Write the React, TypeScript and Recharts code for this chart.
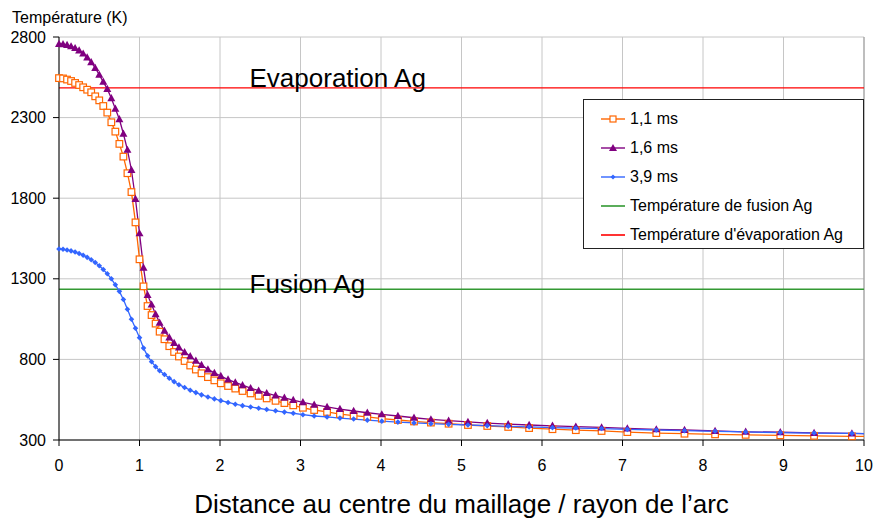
import React from 'react';
import { LineChart, Line, XAxis, YAxis, CartesianGrid, ReferenceLine, Legend } from 'recharts';

const FONT = '"Liberation Sans", Arial, sans-serif';

// distance / arc radius (shared mesh for the three curves)
const distances = [
  0, 0.05, 0.1, 0.15, 0.2, 0.25, 0.3, 0.35, 0.4, 0.45,
  0.5, 0.55, 0.6, 0.65, 0.7, 0.75, 0.8, 0.85, 0.9, 0.95,
  1.0, 1.05, 1.1, 1.15, 1.2, 1.25, 1.31, 1.37, 1.43, 1.49,
  1.56, 1.63, 1.7, 1.77, 1.85, 1.93, 2.01, 2.1, 2.19, 2.28,
  2.38, 2.48, 2.58, 2.69, 2.8, 2.91, 3.03, 3.17, 3.33, 3.49,
  3.66, 3.83, 4.01, 4.21, 4.41, 4.62, 4.84, 5.08, 5.32, 5.58,
  5.84, 6.13, 6.42, 6.74, 7.06, 7.42, 7.77, 8.15, 8.53, 8.96,
  9.38, 9.85, 10,
];

// 1,1 ms
const temp11 = [
  2545, 2543, 2536, 2527, 2515, 2502, 2488, 2473, 2457, 2432,
  2407, 2372, 2331, 2271, 2213, 2137, 2058, 1955, 1838, 1650,
  1421, 1253, 1131, 1075, 1022, 972, 925, 882, 846, 818,
  790, 762, 737, 714, 690, 670, 652, 635, 619, 604,
  589, 574, 558, 543, 529, 515, 500, 486, 474, 461,
  451, 443, 432, 424, 415, 408, 401, 393, 387, 381,
  374, 367, 361, 356, 349, 343, 339, 335, 332, 329,
  326, 323, 322,
];

// 1,6 ms
const temp16 = [
  2757, 2755, 2750, 2742, 2731, 2716, 2697, 2673, 2644, 2608,
  2566, 2522, 2478, 2420, 2355, 2290, 2200, 2100, 1975, 1795,
  1582, 1369, 1200, 1140, 1080, 1028, 978, 936, 902, 874,
  845, 820, 792, 765, 738, 716, 697, 675, 657, 640,
  622, 606, 591, 576, 562, 548, 534, 519, 505, 492,
  480, 469, 459, 449, 438, 428, 420, 412, 405, 398,
  393, 388, 383, 378, 372, 366, 362, 356, 351, 348,
  344, 341, 340,
];

// 3,9 ms
const temp39 = [
  1485, 1483, 1479, 1473, 1466, 1457, 1446, 1433, 1418, 1401,
  1381, 1358, 1331, 1300, 1263, 1222, 1172, 1111, 1049, 993,
  935, 870, 822, 785, 755, 730, 706, 683, 662, 643,
  626, 609, 594, 580, 567, 555, 544, 533, 522, 513,
  505, 497, 489, 481, 473, 466, 457, 449, 443, 436,
  430, 423, 417, 411, 406, 401, 397, 393, 389, 385,
  381, 377, 374, 371, 366, 362, 358, 354, 350, 346,
  343, 341, 340,
];

const xTicks = [0, 1, 2, 3, 4, 5, 6, 7, 8, 9, 10];
const yTicks = [300, 800, 1300, 1800, 2300, 2800];

const T_FUSION = 1235;
const T_EVAP = 2485;

const data = distances.map((x, i) => ({ x, t11: temp11[i], t16: temp16[i], t39: temp39[i] }));

const ORANGE = '#FF6600';
const PURPLE = '#800080';
const BLUE = '#3366FF';
const GREEN = '#339933';
const RED = '#FF0000';

const SquareDot = (p: any) => {
  const { cx, cy, index, payload } = p;
  if (cx == null || payload.x >= 10) return <g key={`sq-${index}`} />;
  return <rect key={`sq-${index}`} x={cx - 3.3} y={cy - 3.3} width={6.6} height={6.6} fill="#fff" stroke={ORANGE} strokeWidth={1.2} />;
};

const TriangleDot = (p: any) => {
  const { cx, cy, index, payload } = p;
  if (cx == null || payload.x >= 10) return <g key={`tr-${index}`} />;
  return <path key={`tr-${index}`} d={`M${cx},${cy - 4.2} L${cx + 4},${cy + 3} L${cx - 4},${cy + 3} Z`} fill={PURPLE} />;
};

const DiamondDot = (p: any) => {
  const { cx, cy, index, payload } = p;
  if (cx == null || payload.x >= 10) return <g key={`di-${index}`} />;
  return <path key={`di-${index}`} d={`M${cx},${cy - 2.8} L${cx + 2.8},${cy} L${cx},${cy + 2.8} L${cx - 2.8},${cy} Z`} fill={BLUE} />;
};

const legendItems = [
  { label: '1,1 ms', color: ORANGE, mark: 'square' },
  { label: '1,6 ms', color: PURPLE, mark: 'triangle' },
  { label: '3,9 ms', color: BLUE, mark: 'diamond' },
  { label: 'Température de fusion Ag', color: GREEN, mark: 'none' },
  { label: "Température d'évaporation Ag", color: RED, mark: 'none' },
];

const LegendIcon = ({ color, mark }: { color: string; mark: string }) => (
  <svg width={24} height={12} style={{ display: 'block' }}>
    <line x1={0} y1={6} x2={24} y2={6} stroke={color} strokeWidth={mark === 'none' ? 1.6 : 1.4} />
    {mark === 'square' && <rect x={9} y={3} width={6} height={6} fill="#fff" stroke={color} strokeWidth={1.2} />}
    {mark === 'triangle' && <path d="M12,2 L16,9 L8,9 Z" fill={color} />}
    {mark === 'diamond' && <path d="M12,3.5 L14.5,6 L12,8.5 L9.5,6 Z" fill={color} />}
  </svg>
);

const renderLegend = () => (
  <div style={{ boxSizing: 'border-box', width: 281, height: 150, border: '1px solid #222', background: '#fff', paddingTop: 4, fontFamily: FONT }}>
    {legendItems.map((it) => (
      <div key={it.label} style={{ display: 'flex', alignItems: 'center', height: 29, paddingLeft: 17, fontSize: 16, color: '#000' }}>
        <LegendIcon color={it.color} mark={it.mark} />
        <span style={{ marginLeft: 5 }}>{it.label}</span>
      </div>
    ))}
  </div>
);

const lineLabel = (text: string, dx: number, dy: number) => (props: any) => {
  const vb = props.viewBox || {};
  return (
    <text x={vb.x + dx} y={vb.y + dy} fontSize={26} fill="#000" fontFamily={FONT}>
      {text}
    </text>
  );
};

export default function App() {
  return (
    <div style={{ position: 'absolute', left: 0, top: 0, width: 877, height: 521, background: '#fff', fontFamily: FONT }}>
      <div style={{ position: 'absolute', left: 12, top: 10, fontSize: 16, lineHeight: '16px', color: '#000' }}>Température (K)</div>
      <LineChart width={877} height={521} data={data} margin={{ top: 37, right: 13, bottom: 0, left: 0 }}>
        <CartesianGrid stroke="#c6c6c6" />
        <XAxis
          dataKey="x"
          type="number"
          domain={[0, 10]}
          ticks={xTicks}
          interval={0}
          height={81}
          tickSize={6}
          tickMargin={14}
          stroke="#000"
          tick={{ fill: '#000', fontSize: 16, fontFamily: FONT }}
          label={{ value: 'Distance au centre du maillage / rayon de l’arc', position: 'insideBottom', offset: 8, fontSize: 26, fill: '#000', fontFamily: FONT }}
        />
        <YAxis
          type="number"
          domain={[300, 2800]}
          ticks={yTicks}
          interval={0}
          width={59}
          tickSize={6}
          tickMargin={7}
          stroke="#000"
          tick={{ fill: '#000', fontSize: 16, fontFamily: FONT }}
        />
        <ReferenceLine x={10} stroke="#999" />
        <ReferenceLine y={T_EVAP} stroke={RED} strokeWidth={1.3} label={lineLabel('Evaporation Ag', 190.5, -1)} />
        <ReferenceLine y={T_FUSION} stroke={GREEN} strokeWidth={1.6} label={lineLabel('Fusion Ag', 190.5, 3.5)} />
        <Line dataKey="t11" type="linear" stroke={ORANGE} strokeWidth={1.3} dot={SquareDot} activeDot={false} isAnimationActive={false} />
        <Line dataKey="t16" type="linear" stroke={PURPLE} strokeWidth={1.3} dot={TriangleDot} activeDot={false} isAnimationActive={false} />
        <Line dataKey="t39" type="linear" stroke={BLUE} strokeWidth={1.3} dot={DiamondDot} activeDot={false} isAnimationActive={false} />
        <Legend layout="vertical" align="center" verticalAlign="middle" content={renderLegend} wrapperStyle={{ left: 583, top: 99, width: 281, height: 150 }} />
      </LineChart>
    </div>
  );
}
